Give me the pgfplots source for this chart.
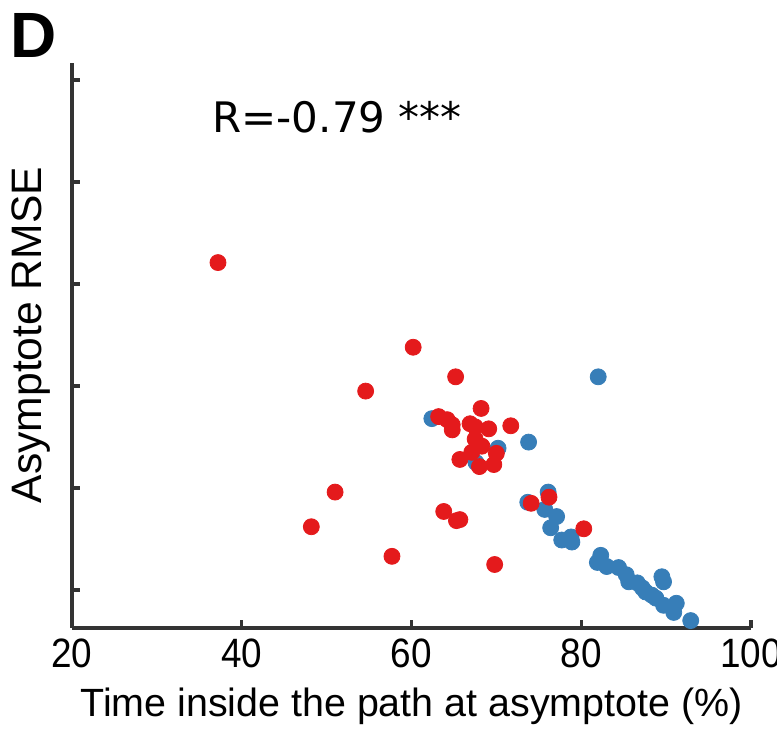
\documentclass[border=0pt]{standalone}
\usepackage{pgfplots}
\pgfplotsset{compat=1.18}
\usepackage{fontspec}
\setmainfont{Liberation Sans}
\newfontfamily\tickfont[FakeStretch=0.9]{Liberation Sans}
\newfontfamily\rfont{DejaVu Sans}
\definecolor{setred}{HTML}{E41A1C}
\definecolor{setblue}{HTML}{377EB8}
\definecolor{axisgray}{HTML}{333333}

\begin{document}
\begin{tikzpicture}
\begin{axis}[
    at={(0,0)}, anchor=south west,
    scale only axis,
    width=339.5pt, height=282.5pt,
    xmin=20, xmax=100,
    ymin=-0.3725, ymax=5.167,
    axis x line*=bottom, axis y line*=left,
    axis line style={line width=1.7pt, color=axisgray},
    every tick/.style={line width=1.7pt, color=axisgray},
    tick align=inside, major tick length=4pt,
    xtick={20,40,60,80,100},
    ytick={0,1,2,3,4,5}, yticklabels={},
    /pgf/number format/assume math mode=true,
    ticklabel style={font=\tickfont\fontsize{20.5}{20.5}\selectfont},
    xticklabel style={anchor=north, yshift=-2pt},
    xlabel={Time inside the path at asymptote (\%)},
    xlabel style={at={(axis description cs:0.5,-0.1575)}, anchor=base,
        font=\fontsize{19.7}{19.7}\selectfont},
    ylabel={Asymptote RMSE},
    ylabel style={at={(axis description cs:-0.0442,0.5186)}, anchor=base,
        font=\fontsize{21.3}{21.3}\selectfont},
    clip=false,
]
% blue group, drawn first
\addplot[only marks, mark=*, mark size=4pt, color=setblue] coordinates {
    (62.4,1.68) (70.2,1.39) (73.8,1.45) (82.0,2.09) (67.6,1.25)
    (73.7,0.86) (76.1,0.96) (75.7,0.79) (77.1,0.72) (76.4,0.61)
    (77.7,0.49) (78.8,0.52) (78.9,0.47) (82.3,0.34) (81.9,0.27)
    (83.0,0.23) (84.4,0.22) (85.3,0.15) (85.6,0.08) (86.6,0.07)
    (87.2,0.02) (87.6,-0.02) (89.5,0.13) (89.7,0.08) (88.3,-0.05)
    (88.8,-0.08) (89.7,-0.15) (91.2,-0.13) (90.9,-0.22) (92.9,-0.30)
};
% red group
\addplot[only marks, mark=*, mark size=4pt, color=setred] coordinates {
    (37.2,3.21) (60.2,2.38) (54.6,1.95) (65.2,2.09) (51.0,0.96)
    (48.2,0.62) (57.7,0.33) (69.8,0.25) (63.8,0.77) (65.3,0.68)
    (65.7,0.69) (74.1,0.85) (76.2,0.91) (80.3,0.60) (68.2,1.78)
    (63.2,1.70) (64.2,1.67) (64.8,1.62) (64.8,1.57) (66.9,1.63)
    (67.5,1.60) (69.1,1.58) (71.7,1.61) (67.5,1.48) (68.3,1.41)
    (67.1,1.35) (70.0,1.34) (65.7,1.28) (68.0,1.21) (69.7,1.23)
};
\end{axis}
\node[anchor=base west, inner sep=0pt, font=\rfont\fontsize{21}{21}\selectfont] at (70pt,247.5pt) {R=-0.79 ***};
\node[anchor=base west, inner sep=0pt, font=\bfseries\fontsize{32}{32}\selectfont] at (-31pt,285pt) {D};
\pgfresetboundingbox
\path (-36pt,-52pt) rectangle (352.5pt,314pt);
\end{tikzpicture}
\end{document}
